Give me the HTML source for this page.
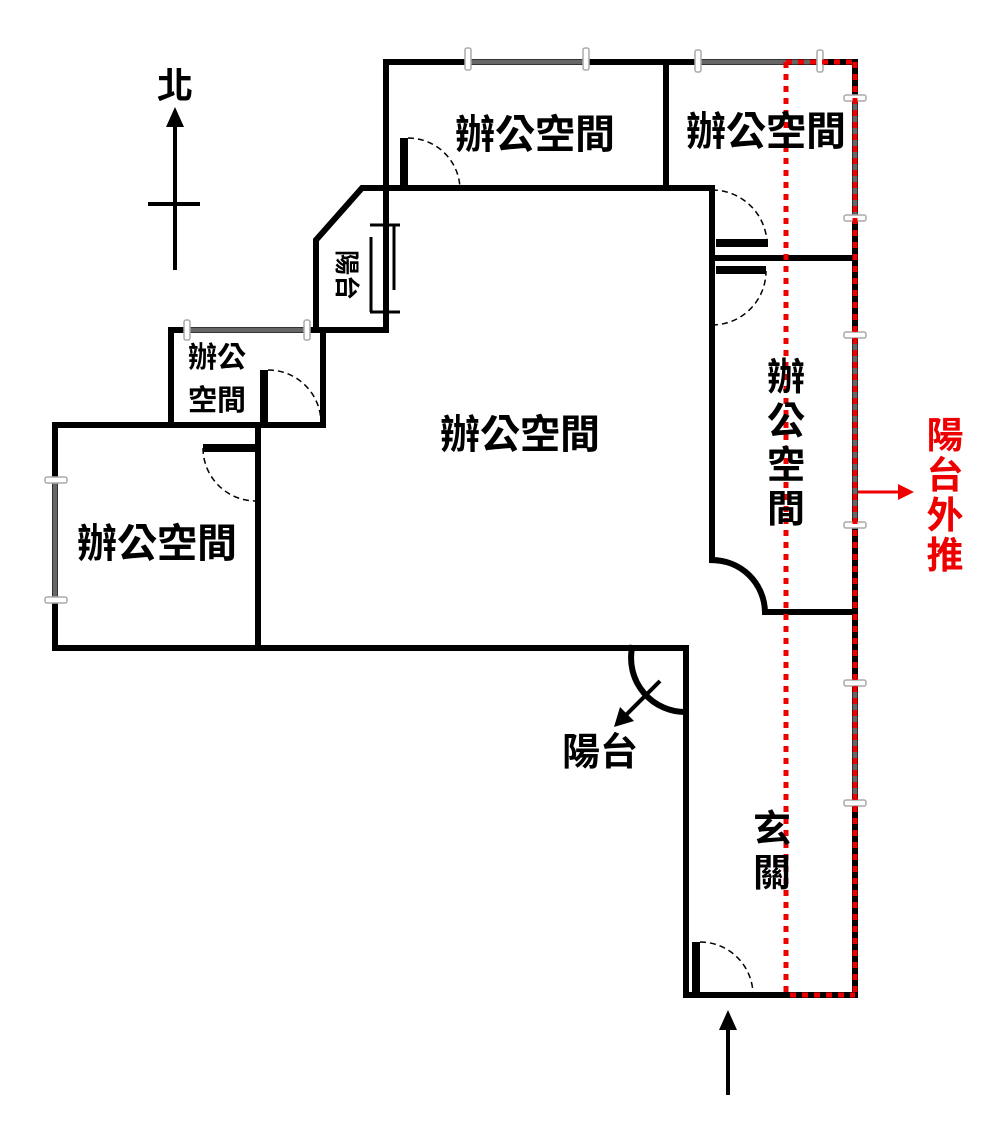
<!DOCTYPE html>
<html><head><meta charset="utf-8"><style>
html,body{margin:0;padding:0;background:#fff;}
svg{display:block}
text{font-family:"Liberation Sans","Noto Sans CJK TC",sans-serif;font-weight:bold;fill:#000}
</style></head><body>
<svg width="1000" height="1125" viewBox="0 0 1000 1125" xmlns="http://www.w3.org/2000/svg">
<g stroke="#000" stroke-width="6" fill="none" stroke-linecap="square">
<polyline points="386,330 386,62 855,62 855,995 686,995 686,648 55,648 55,425 171,425 171,330 323,330 323,425"/>
<line x1="55" y1="425" x2="323" y2="425"/>
<line x1="666" y1="62" x2="666" y2="188"/>
<polyline points="316,330 316,240 362,188 712,188 712,560"/>
<line x1="316" y1="330" x2="386" y2="330"/>
<path d="M712,560 A53,53 0 0 1 765,612 L855,612"/>
<line x1="712" y1="258" x2="855" y2="258"/>
<line x1="258" y1="425" x2="258" y2="648"/>
<path d="M632,648 A54,54 0 0 0 686,712"/>
</g>
<g fill="#000">
<rect x="400" y="138" width="8" height="52"/>
<rect x="716" y="239" width="52" height="8"/>
<rect x="716" y="266" width="50" height="8"/>
<rect x="260" y="370" width="8" height="55"/>
<rect x="203" y="444" width="53" height="8"/>
<rect x="692" y="942" width="8" height="53"/>
</g>
<g stroke="#000" stroke-width="1.5" fill="none" stroke-dasharray="6,4">
<path d="M408,138 A52,52 0 0 1 460,190"/>
<path d="M712,190 A55,55 0 0 1 767,243"/>
<path d="M712,325 A54,54 0 0 0 766,271"/>
<path d="M268,370 A53,53 0 0 1 321,423"/>
<path d="M203,448 A53,53 0 0 0 256,501"/>
<path d="M700,942 A53,53 0 0 1 753,995"/>
</g>
<g stroke="#000" stroke-width="3">
<line x1="370" y1="225" x2="400" y2="225"/>
<line x1="370" y1="312" x2="400" y2="312"/>
<line x1="385" y1="225" x2="385" y2="312"/>
<line x1="371" y1="237" x2="371" y2="312"/>
<line x1="394" y1="225" x2="394" y2="290"/>
</g>
<g stroke="#666" stroke-width="5">
<line x1="468" y1="62" x2="586" y2="62"/>
<line x1="698" y1="62" x2="820" y2="62"/>
<line x1="855" y1="98" x2="855" y2="218"/>
<line x1="855" y1="335" x2="855" y2="525"/>
<line x1="855" y1="683" x2="855" y2="803"/>
<line x1="187" y1="330" x2="307" y2="330"/>
<line x1="55" y1="480" x2="55" y2="600"/>
</g>
<g fill="#fff" stroke="#aaa" stroke-width="1.5">
<rect x="465" y="48" width="6" height="22" rx="2"/><rect x="583" y="48" width="6" height="22" rx="2"/>
<rect x="695" y="50" width="6" height="22" rx="2"/><rect x="817" y="50" width="6" height="22" rx="2"/>
<rect x="844" y="95" width="22" height="6" rx="2"/><rect x="844" y="215" width="22" height="6" rx="2"/>
<rect x="844" y="332" width="22" height="6" rx="2"/><rect x="844" y="522" width="22" height="6" rx="2"/>
<rect x="844" y="680" width="22" height="6" rx="2"/><rect x="844" y="800" width="22" height="6" rx="2"/>
<rect x="184" y="320" width="6" height="20" rx="2"/><rect x="304" y="320" width="6" height="20" rx="2"/>
<rect x="45" y="477" width="22" height="6" rx="2"/><rect x="45" y="597" width="22" height="6" rx="2"/>
</g>
<g stroke="#e00" stroke-width="5" fill="none" stroke-dasharray="6,6">
<line x1="786" y1="62" x2="786" y2="995"/>
<line x1="786" y1="62" x2="855" y2="62"/>
<line x1="855" y1="62" x2="855" y2="995"/>
<line x1="790" y1="995" x2="855" y2="995"/>
</g>
<line x1="858" y1="492" x2="900" y2="492" stroke="#e00" stroke-width="3"/>
<polygon points="914,492 898,484 898,500" fill="#e00"/>
<g stroke="#000" stroke-width="4">
<line x1="175" y1="122" x2="175" y2="270"/>
<line x1="148" y1="204" x2="200" y2="204"/>
<line x1="728" y1="1025" x2="728" y2="1095"/>
<line x1="660" y1="681" x2="625" y2="716"/>
</g>
<polygon points="175,107 166,127 184,127" fill="#000"/>
<polygon points="728,1010 719,1030 737,1030" fill="#000"/>
<polygon points="614,727 620,707 634,721" fill="#000"/>
<text x="175" y="98" font-size="36" text-anchor="middle">北</text>
<text x="535" y="148" font-size="40" text-anchor="middle">辦公空間</text>
<text x="766" y="145" font-size="40" text-anchor="middle">辦公空間</text>
<text x="520" y="448" font-size="40" text-anchor="middle">辦公空間</text>
<text x="157" y="557" font-size="40" text-anchor="middle">辦公空間</text>
<text x="217" y="367" font-size="29" text-anchor="middle">辦公</text>
<text x="217" y="410" font-size="29" text-anchor="middle">空間</text>
<text x="600" y="765" font-size="38" text-anchor="middle">陽台</text>
<g font-size="38" text-anchor="middle">
<text x="786" y="390">辦</text><text x="786" y="434">公</text><text x="786" y="478">空</text><text x="786" y="522">間</text>
<text x="772" y="842">玄</text><text x="772" y="886">關</text>
</g>
<g font-size="37" text-anchor="middle">
<text x="945" y="448" style="fill:#e00">陽</text><text x="945" y="488" style="fill:#e00">台</text><text x="945" y="528" style="fill:#e00">外</text><text x="945" y="568" style="fill:#e00">推</text>
</g>
<text font-size="25" transform="translate(338,250) rotate(90)" text-anchor="start">陽台</text>
</svg>
</body></html>
